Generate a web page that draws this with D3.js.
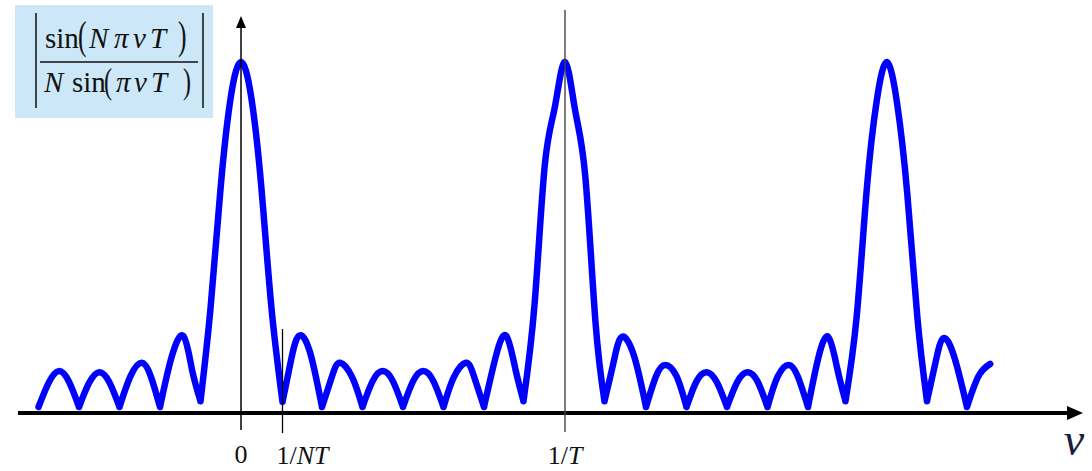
<!DOCTYPE html>
<html>
<head>
<meta charset="utf-8">
<script src="https://cdn.jsdelivr.net/npm/d3@7"></script>
<style>
  html, body { margin: 0; padding: 0; background: #fff; }
  svg { display: block; }
</style>
</head>
<body>
<svg id="chart" width="1092" height="471"></svg>
<script>
// nu in steps of T/32 (so 0 -> nu = 0, 4 -> 1/NT with N = 8, 32 -> 1/T)
const nuSteps = [
  -20, -19, -18, -17, -16,
  -15, -14, -13, -12,
  -10.9, -9.8, -8.9, -8,
  -6.85, -5.7, -4.85, -4,
  -3, -2, -1, 0, 1, 2, 3, 4.1,
  4.9, 5.7, 6.8, 8,
  9, 9.8, 11, 12,
  13, 14, 15, 16,
  17, 18, 19, 20,
  21, 22.2, 23, 24,
  25.2, 26.2, 27.1, 27.9,
  29, 30, 31, 32, 33, 34, 35, 35.9,
  36.8, 37.6, 38.8, 40,
  41, 41.9, 43, 44,
  45, 46, 47, 48,
  49, 50, 51, 52,
  53, 54.1, 55, 56,
  57, 58, 58.9, 59.7,
  60.8, 61.8, 62.8, 63.8, 64.8, 65.8, 66.8, 67.75,
  68.6, 69.4, 70.5, 71.7,
  72.85, 74
];

// |sin(N pi nu T) / (N sin(pi nu T))|
const amplitude = [
  0, 0.07, 0.104, 0.074, 0,
  0.07, 0.101, 0.072, 0,
  0.09, 0.128, 0.088, 0,
  0.145, 0.206, 0.11, 0.017,
  0.29, 0.64, 0.90, 1.0, 0.90, 0.64, 0.29, 0.015,
  0.13, 0.206, 0.16, 0,
  0.09, 0.128, 0.085, 0,
  0.075, 0.104, 0.075, 0,
  0.075, 0.104, 0.075, 0,
  0.085, 0.128, 0.09, 0,
  0.15, 0.206, 0.11, 0.017,
  0.30, 0.70, 0.87, 1.0, 0.86, 0.67, 0.25, 0.017,
  0.13, 0.203, 0.15, 0,
  0.09, 0.122, 0.09, 0,
  0.075, 0.101, 0.072, 0,
  0.072, 0.101, 0.075, 0,
  0.088, 0.122, 0.088, 0,
  0.14, 0.203, 0.11, 0.017,
  0.26, 0.63, 0.89, 1.0, 0.88, 0.62, 0.26, 0.017,
  0.13, 0.20, 0.14, 0,
  0.09, 0.125
];

// tick marks on the nu axis (same T/32 units)
const tickSteps = [0, 4, 32];

const svg = d3.select('#chart');
const serif = '"Liberation Serif", "Times New Roman", serif';

const x = d3.scaleLinear().domain([0, 32]).range([241, 565]);
const y = d3.scaleLinear().domain([0, 1]).range([407, 62]);

const AXIS_Y = 413;

// --- formula box ---
const box = svg.append('g');
box.append('rect')
  .attr('x', 15).attr('y', 5).attr('width', 198).attr('height', 113)
  .attr('fill', '#cce8f8');

function glyph(txt, gx, gy, size, italic) {
  box.append('text')
    .attr('x', gx).attr('y', gy)
    .attr('font-family', serif)
    .attr('font-size', size)
    .attr('font-style', italic ? 'italic' : 'normal')
    .attr('fill', '#111')
    .text(txt);
}
// tall thin bracket
function paren(txt, gx, gy, size, sy) {
  box.append('text')
    .attr('transform', `translate(${gx},${gy}) scale(0.75,${sy})`)
    .attr('font-family', serif)
    .attr('font-size', size)
    .attr('fill', '#111')
    .text(txt);
}
// numerator
glyph('sin', 45, 48, 29, false);
paren('(', 78, 49, 34, 1.2);
glyph('N', 89, 48, 29, true);
glyph('\u03c0', 114, 48, 29, true);
glyph('\u03bd', 133, 48, 29, true);
glyph('T', 150, 48, 29, true);
paren(')', 178, 49, 34, 1.2);
// denominator
glyph('N', 44, 92, 29, true);
glyph('sin', 72, 92, 29, false);
paren('(', 104, 93, 32, 1.1);
glyph('\u03c0', 116, 92, 29, true);
glyph('\u03bd', 134, 92, 29, true);
glyph('T', 151, 92, 29, true);
paren(')', 183, 93, 32, 1.1);

box.append('line').attr('x1', 40).attr('x2', 198).attr('y1', 62).attr('y2', 62)
  .attr('stroke', '#111').attr('stroke-width', 1.5);
[36, 203].forEach(bx => {
  box.append('line').attr('x1', bx).attr('x2', bx).attr('y1', 13).attr('y2', 108)
    .attr('stroke', '#111').attr('stroke-width', 1.5);
});

// --- curve: split into arches at local minima so the dips stay sharp ---
const pts = nuSteps.map((k, i) => ({ k, v: amplitude[i] }));
const arches = [];
let start = 0;
for (let i = 1; i < pts.length - 1; i++) {
  if (pts[i].v <= pts[i - 1].v && pts[i].v <= pts[i + 1].v) {
    arches.push(pts.slice(start, i + 1));
    start = i;
  }
}
arches.push(pts.slice(start));

const line = d3.line()
  .x(d => x(d.k))
  .y(d => y(d.v))
  .curve(d3.curveNatural);

svg.append('path')
  .attr('d', arches.map(a => line(a)).join(''))
  .attr('fill', 'none')
  .attr('stroke', '#0000ff')
  .attr('stroke-width', 6.5)
  .attr('stroke-linecap', 'round')
  .attr('stroke-linejoin', 'round');

// --- axes ---
svg.append('line')
  .attr('x1', 18).attr('x2', 1070).attr('y1', AXIS_Y).attr('y2', AXIS_Y)
  .attr('stroke', '#000').attr('stroke-width', 4);
svg.append('path')
  .attr('d', `M1083,${AXIS_Y} L1067,${AXIS_Y - 7} L1067,${AXIS_Y + 7} Z`)
  .attr('fill', '#000');

// vertical axis at nu = 0
svg.append('line')
  .attr('x1', x(0)).attr('x2', x(0)).attr('y1', 430).attr('y2', 26)
  .attr('stroke', '#000').attr('stroke-width', 1.5);
svg.append('path')
  .attr('d', `M${x(0)},16 L${x(0) - 5},28 L${x(0) + 5},28 Z`)
  .attr('fill', '#000');

// 1/T line
svg.append('line')
  .attr('x1', x(32)).attr('x2', x(32)).attr('y1', 10).attr('y2', 432)
  .attr('stroke', '#444').attr('stroke-width', 1.4);

// 1/NT tick
svg.append('line')
  .attr('x1', x(4) + 1).attr('x2', x(4) + 1).attr('y1', 329).attr('y2', 433)
  .attr('stroke', '#000').attr('stroke-width', 1.3);

// --- tick labels ---
function label(k, anchor, dx, baseline, parts) {
  const t = svg.append('text')
    .attr('x', x(k) + dx).attr('y', baseline)
    .attr('text-anchor', anchor)
    .attr('font-family', serif)
    .attr('font-size', 26)
    .attr('fill', '#111');
  parts.forEach(p => t.append('tspan').attr('font-style', p[1] ? 'italic' : 'normal').text(p[0]));
}
label(tickSteps[0], 'middle', 0, 463, [['0', false]]);
label(tickSteps[1], 'start', -5, 464, [['1/', false], ['NT', true]]);
label(tickSteps[2], 'middle', 0, 464, [['1/', false], ['T', true]]);

// nu axis title
svg.append('text')
  .attr('x', 1074).attr('y', 455)
  .attr('text-anchor', 'middle')
  .attr('font-family', serif)
  .attr('font-size', 46)
  .attr('font-style', 'italic')
  .attr('fill', '#1c1c3c')
  .text('\u03bd');
</script>
</body>
</html>
